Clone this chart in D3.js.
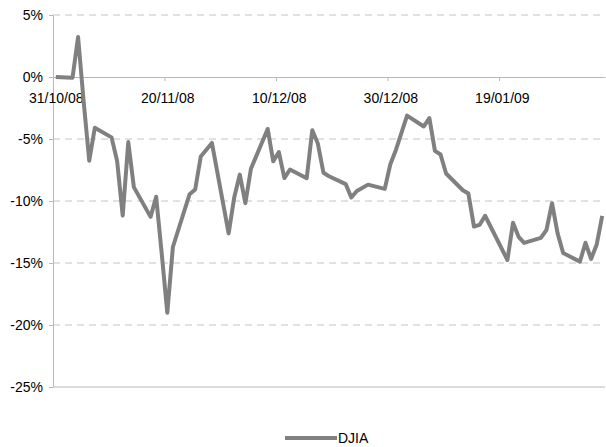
<!DOCTYPE html>
<html>
<head>
<meta charset="utf-8">
<script src="https://cdn.jsdelivr.net/npm/d3@7"></script>
<style>
  body { margin: 0; background: #fff; }
  svg { font-family: "Liberation Sans", Arial, sans-serif; }
</style>
</head>
<body>
<div id="chart"></div>
<script>
// trading days and cumulative % change of the DJIA since 31/10/08
var dates = ["2008-10-31","2008-11-03","2008-11-04","2008-11-05","2008-11-06","2008-11-07",
  "2008-11-10","2008-11-11","2008-11-12","2008-11-13","2008-11-14",
  "2008-11-17","2008-11-18","2008-11-19","2008-11-20","2008-11-21",
  "2008-11-24","2008-11-25","2008-11-26","2008-11-28",
  "2008-12-01","2008-12-02","2008-12-03","2008-12-04","2008-12-05",
  "2008-12-08","2008-12-09","2008-12-10","2008-12-11","2008-12-12",
  "2008-12-15","2008-12-16","2008-12-17","2008-12-18","2008-12-19",
  "2008-12-22","2008-12-23","2008-12-24","2008-12-26",
  "2008-12-29","2008-12-30","2008-12-31","2009-01-02",
  "2009-01-05","2009-01-06","2009-01-07","2009-01-08","2009-01-09",
  "2009-01-12","2009-01-13","2009-01-14","2009-01-15","2009-01-16",
  "2009-01-20","2009-01-21","2009-01-22","2009-01-23",
  "2009-01-26","2009-01-27","2009-01-28","2009-01-29","2009-01-30",
  "2009-02-02","2009-02-03","2009-02-04","2009-02-05","2009-02-06"];

var djia = [0, -0.06, 3.22, -1.99, -6.75, -4.09,
  -4.87, -6.77, -11.18, -5.25, -8.88,
  -11.28, -9.66, -14.24, -19.01, -13.71,
  -9.45, -9.07, -6.42, -5.32,
  -12.61, -9.72, -7.87, -10.18, -7.40,
  -4.19, -6.80, -6.05, -8.15, -7.46,
  -8.16, -4.30, -5.37, -7.72, -8.00,
  -8.64, -9.71, -9.19, -8.68,
  -9.02, -7.04, -5.88, -3.11,
  -3.99, -3.32, -5.96, -6.25, -7.78,
  -9.13, -9.40, -12.06, -11.93, -11.19,
  -14.76, -11.76, -12.89, -13.38,
  -12.97, -12.34, -10.18, -12.61, -14.20,
  -14.89, -13.37, -14.67, -13.53, -11.20];

var yTicks = [5, 0, -5, -10, -15, -20, -25];
var xTickDates = ["2008-10-31","2008-11-20","2008-12-10","2008-12-30","2009-01-19"];
var seriesName = "DJIA";

var W = 606, H = 447;
var margin = {top: 15, right: 1, bottom: 60, left: 53};

var parse = d3.timeParse("%Y-%m-%d");
var fmt = d3.timeFormat("%d/%m/%y");
var halfDay = 12 * 3600 * 1000;

var data = dates.map(function(d, i) { return {date: parse(d), value: djia[i]}; });
var tickDates = xTickDates.map(parse);

var svg = d3.select("#chart").append("svg")
  .attr("width", W)
  .attr("height", H);

var x = d3.scaleTime()
  .domain([parse("2008-10-31"), d3.timeDay.offset(parse("2009-02-06"), 1)])
  .range([margin.left, W - margin.right]);

var y = d3.scaleLinear()
  .domain([-25, 5])
  .range([H - margin.bottom, margin.top]);

// dashed gridlines
svg.append("g")
  .selectAll("line")
  .data(yTicks.filter(function(d) { return d !== 0 && d !== -25; }))
  .enter().append("line")
  .attr("x1", margin.left)
  .attr("x2", W - margin.right)
  .attr("y1", function(d) { return y(d); })
  .attr("y2", function(d) { return y(d); })
  .attr("stroke", "#c4c4c4")
  .attr("stroke-width", 1)
  .attr("stroke-dasharray", "7,5");

// bottom border
svg.append("line")
  .attr("x1", margin.left)
  .attr("x2", W - margin.right)
  .attr("y1", y(-25))
  .attr("y2", y(-25))
  .attr("stroke", "#b8b8b8");

// y axis
var yAxis = svg.append("g")
  .attr("transform", "translate(" + margin.left + ",0)")
  .call(d3.axisLeft(y).tickValues(yTicks).tickSize(4).tickSizeOuter(0)
    .tickFormat(function(d) { return d + "%"; }));
yAxis.select(".domain").attr("stroke", "#b8b8b8");
yAxis.selectAll(".tick line").attr("stroke", "#b8b8b8");
yAxis.selectAll(".tick text")
  .attr("x", -10)
  .attr("dy", "0.35em")
  .attr("fill", "#000")
  .style("font-size", "14px")
  .style("font-family", "Liberation Sans, Arial, sans-serif");

// x axis at 0%
var xAxis = svg.append("g")
  .attr("transform", "translate(0," + y(0) + ")")
  .call(d3.axisBottom(x).tickValues(tickDates).tickSize(4).tickSizeOuter(0).tickFormat(fmt));
xAxis.select(".domain").attr("stroke", "#b8b8b8");
xAxis.selectAll(".tick line").attr("stroke", "#b8b8b8");
xAxis.selectAll(".tick text")
  .attr("x", function(d) { return x(new Date(+d + halfDay)) - x(d); })
  .attr("y", 26)
  .attr("dy", 0)
  .attr("fill", "#000")
  .style("font-size", "14px")
  .style("font-family", "Liberation Sans, Arial, sans-serif");

// the line, points at the middle of each day
var line = d3.line()
  .x(function(d) { return x(new Date(+d.date + halfDay)); })
  .y(function(d) { return y(d.value); });

svg.append("path")
  .datum(data)
  .attr("fill", "none")
  .attr("stroke", "#808080")
  .attr("stroke-width", 4)
  .attr("stroke-linejoin", "round")
  .attr("d", line);

// legend
var legend = svg.append("g").attr("transform", "translate(285,438)");
legend.append("line")
  .attr("x1", 0).attr("x2", 52)
  .attr("y1", 0).attr("y2", 0)
  .attr("stroke", "#808080")
  .attr("stroke-width", 4);
legend.append("text")
  .attr("x", 53)
  .attr("y", 5)
  .style("font-size", "14px")
  .text(seriesName);
</script>
</body>
</html>
